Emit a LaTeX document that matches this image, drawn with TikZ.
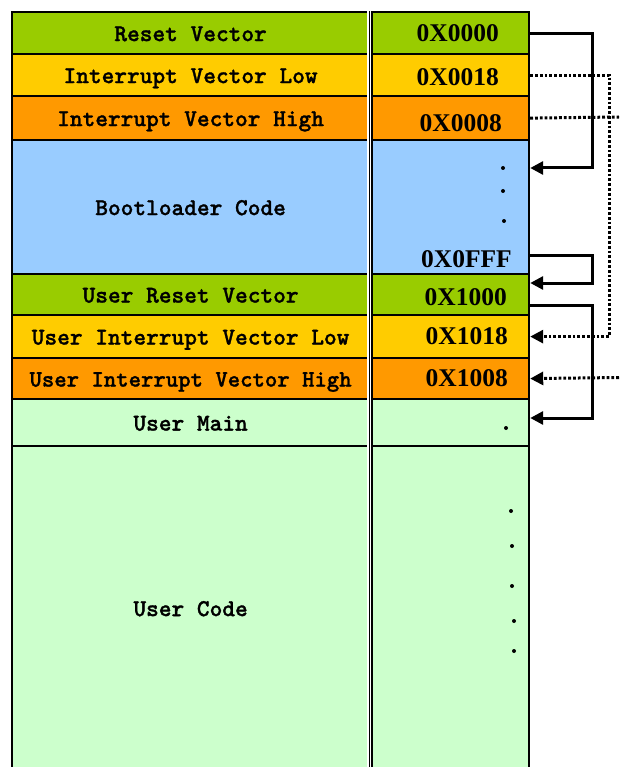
\documentclass[tikz,border=0pt]{standalone}
\usepackage{fontspec}
\setmainfont{Liberation Serif}
\newfontfamily\codefont[FakeBold=1.2]{lmmonolt10-bold.otf}
\usetikzlibrary{arrows.meta,calc}
\definecolor{vecgreen}{HTML}{99CC00}
\definecolor{veclow}{HTML}{FFCC00}
\definecolor{vechigh}{HTML}{FF9900}
\definecolor{bootblue}{HTML}{99CCFF}
\definecolor{usergreen}{HTML}{CCFFCC}
\begin{document}
\begin{tikzpicture}[x=1pt,y=-1pt,
  cell/.style={draw=black,line width=2.2pt,inner sep=0pt,anchor=north west},
  region/.style={cell,minimum width=357pt,text height=18pt,text depth=2pt,
    font=\codefont\fontsize{24.2}{24}\selectfont},
  addr/.style={cell,minimum width=157pt},
  num/.style={anchor=base east,inner sep=0pt,font=\bfseries\fontsize{25.5}{26}\selectfont},
  jump/.style={line width=3pt,-{Triangle[length=13pt,width=13pt]}},
  hop/.style={line width=3pt,dash pattern=on 2.8pt off 2pt},
  hoparrow/.style={hop,-{Triangle[length=13pt,width=13pt]}},
  memdot/.style={fill=black}]
\useasboundingbox (0,0) rectangle (619,767);
\clip (0,0) rectangle (619,767);

% region names (left column)
\node[region,fill=vecgreen,minimum height=42pt] (rv) at (11,11) {Reset Vector};
\node[region,fill=veclow,minimum height=42pt] (ivl) at (11,53) {Interrupt Vector Low};
\node[region,fill=vechigh,minimum height=44pt] (ivh) at (11,95) {Interrupt Vector High};
\node[region,fill=bootblue,minimum height=134pt] (boot) at (11,139) {Bootloader Code};
\node[region,fill=vecgreen,minimum height=41pt] (urv) at (11,273) {User Reset Vector};
\node[region,fill=veclow,minimum height=43pt] (uivl) at (11,314) {User Interrupt Vector Low};
\node[region,fill=vechigh,minimum height=41pt,font=\codefont\fontsize{23.6}{24}\selectfont] (uivh) at (11,357) {User Interrupt Vector High};
\node[region,fill=usergreen,minimum height=47pt] (um) at (11,398) {User Main};
\node[region,fill=usergreen,minimum height=324pt] (uc) at (11,445) {User Code};

% address column
\node[addr,fill=vecgreen,minimum height=42pt] (a0) at (371,11) {};
\node[addr,fill=veclow,minimum height=42pt] (a1) at (371,53) {};
\node[addr,fill=vechigh,minimum height=44pt] (a2) at (371,95) {};
\node[addr,fill=bootblue,minimum height=134pt] (a3) at (371,139) {};
\node[addr,fill=vecgreen,minimum height=41pt] (a4) at (371,273) {};
\node[addr,fill=veclow,minimum height=43pt] (a5) at (371,314) {};
\node[addr,fill=vechigh,minimum height=41pt] (a6) at (371,357) {};
\node[addr,fill=usergreen,minimum height=47pt] (a7) at (371,398) {};
\node[addr,fill=usergreen,minimum height=324pt] (a8) at (371,445) {};

% gap between the two columns
\draw[white,line width=2pt] (368,10) -- (368,767);

% addresses
\node[num] (n0) at (499,41.5) {0X0000};
\node[num] (n1) at (499,86) {0X0018};
\node[num] (n2) at (502,131.5) {0X0008};
\node[num] (n3) at (512,267) {0X0FFF};
\node[num] (n4) at (507,305.5) {0X1000};
\node[num] (n5) at (508,344.5) {0X1018};
\node[num] (n6) at (508,386.5) {0X1008};

% continuation dots
\foreach \x/\y in {503/168,503/191,504/221,506/428,511/511,512/546,512/586,514/621,514/651}
  \fill[memdot] (\x,\y) circle (2);

% jumps
\draw[jump] (a0.east) -- ++(62,0) |- ($(a3.north east)+(0,29)$);
\draw[jump] ($(a3.south east)+(0,-20)$) -- ++(62,0) |- ($(a4.north east)+(0,10)$);
\draw[jump] ($(a4.south east)+(0,-11)$) -- ++(62,0) |- ($(a7.north east)+(0,20)$);

% interrupt redirections
\coordinate (highout) at (619,117);
\coordinate (highin) at (619,377.5);
\draw[hoparrow] (a1.east) -- ++(79,0) |- (a5.east);
\draw[hop] (a2.east) -- (highout);
\draw[hoparrow] (highin) -- (a6.east);
\end{tikzpicture}
\end{document}
